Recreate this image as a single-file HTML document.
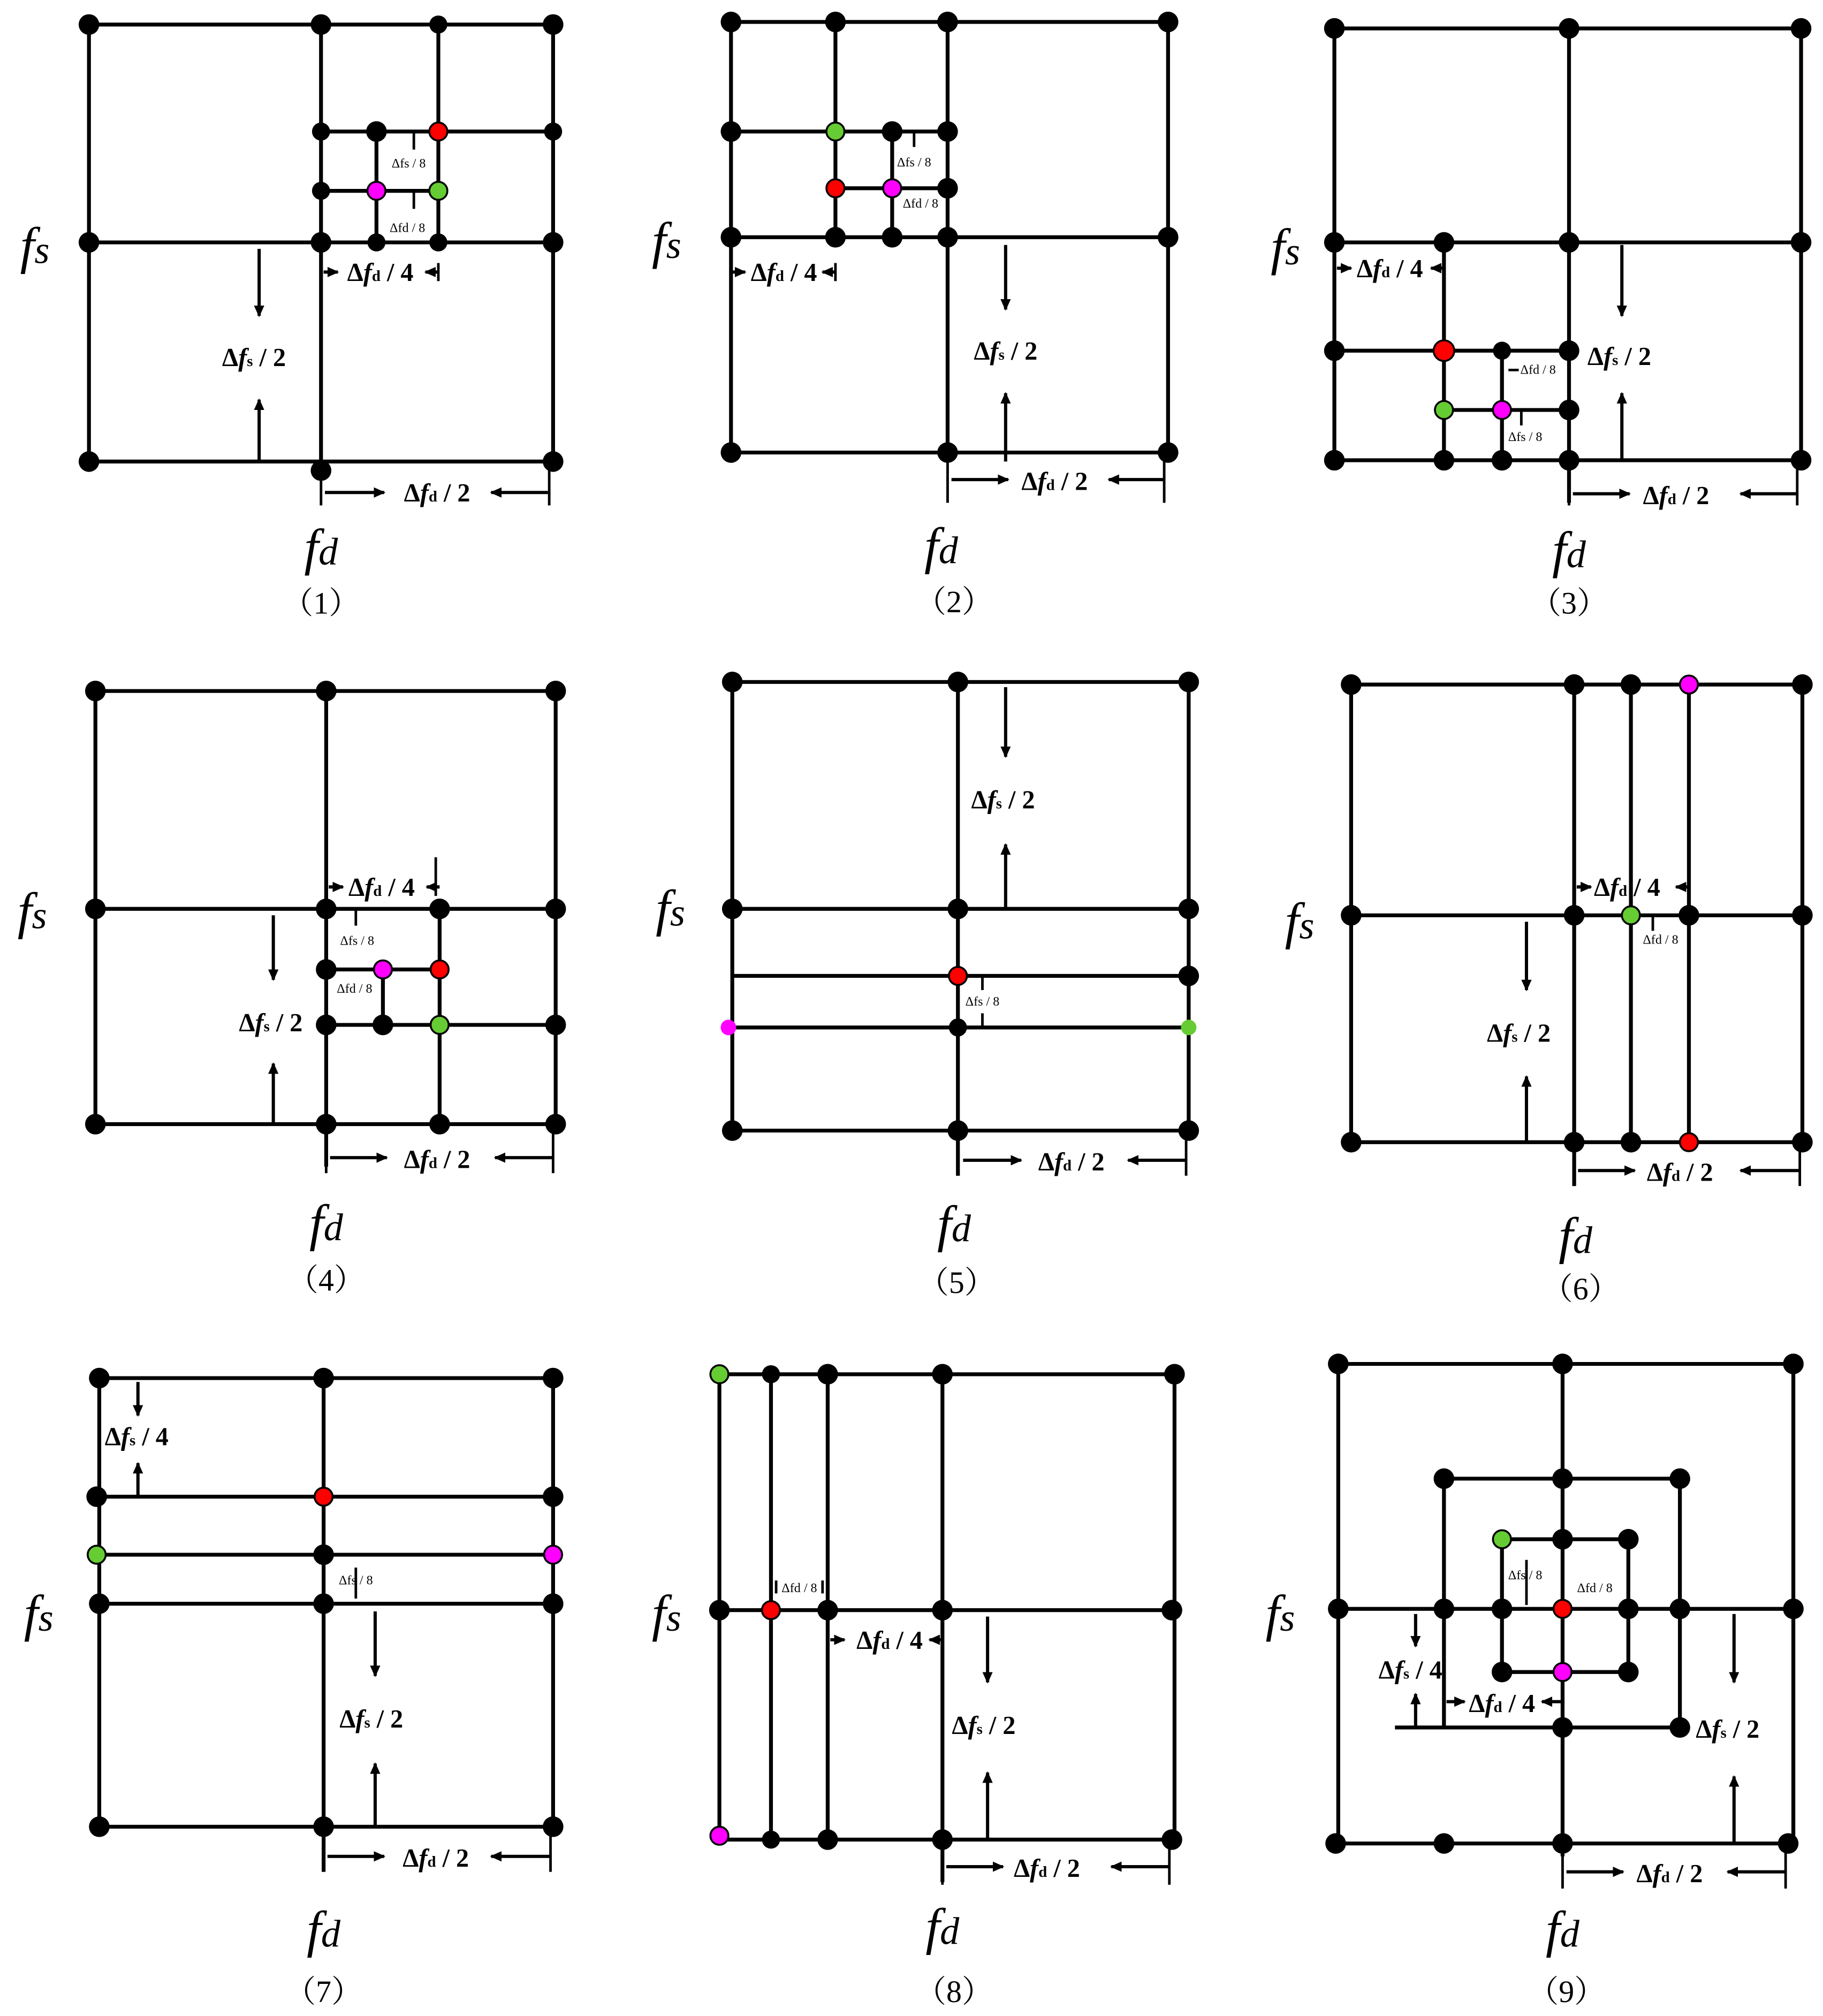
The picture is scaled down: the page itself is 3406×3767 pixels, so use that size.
<!DOCTYPE html>
<html><head><meta charset="utf-8"><style>
html,body{margin:0;padding:0;background:#fff}
svg{display:block}
.l{stroke:#000;stroke-width:3;fill:none}
.a{stroke:#000;stroke-width:2.5;fill:none;marker-end:url(#ah)}
.t{stroke:#000;stroke-width:2;fill:none}
.m{font-family:"Liberation Serif",serif;font-weight:bold;font-size:20px;text-anchor:middle}
.s{font-family:"Liberation Serif",serif;font-size:10px;text-anchor:middle}
.f{font-family:"Liberation Serif",serif;font-style:italic;font-size:40px;text-anchor:middle}
.p{font-family:"Liberation Serif","Noto Serif CJK SC",serif;font-size:24px;text-anchor:middle}
.k{fill:#000}.r{fill:#f00;stroke:#000;stroke-width:1.5}.g{fill:#6c3;stroke:#000;stroke-width:1.5}.q{fill:#f0f;stroke:#000;stroke-width:1.5}
</style></head><body>
<svg width="3406" height="3767" viewBox="0 0 1414 1563.8" xmlns="http://www.w3.org/2000/svg">
<defs><marker id="ah" markerWidth="9" markerHeight="8" refX="8" refY="4" orient="auto" markerUnits="userSpaceOnUse"><path d="M0,0 L9,4 L0,8 z"/></marker></defs>

<!-- Panel 1 -->
<g>
<path class="l" d="M69,19H429V358H69Z M249,19V365 M69,188H429 M340,19V188 M249,102H429 M249,148H340 M292,102V188"/>
<g class="k"><circle cx="69" cy="19" r="8"/><circle cx="249" cy="19" r="8"/><circle cx="340" cy="19" r="7"/><circle cx="429" cy="19" r="8"/><circle cx="249" cy="102" r="7"/><circle cx="292" cy="102" r="8"/><circle cx="429" cy="102" r="7"/><circle cx="249" cy="148" r="7"/><circle cx="69" cy="188" r="8"/><circle cx="249" cy="188" r="8"/><circle cx="292" cy="188" r="7"/><circle cx="340" cy="188" r="7"/><circle cx="429" cy="188" r="8"/><circle cx="69" cy="358" r="8"/><circle cx="249" cy="365" r="8"/><circle cx="429" cy="358" r="8"/></g>
<circle class="r" cx="340" cy="102" r="7"/><circle class="q" cx="292" cy="148" r="7"/><circle class="g" cx="340" cy="148" r="7"/>
<path class="a" d="M201,193V245"/><path class="a" d="M201,358V310"/><path class="a" d="M252,382H298"/><path class="a" d="M425,382H381"/>
<path class="a" d="M251,211H262"/><path class="a" d="M340,211H330"/>
<path class="t" d="M249,358V392 M426,358V392 M321,102V116 M321,148V162 M340,204V218"/>
<text class="m" x="197" y="284">Δ<tspan font-style="italic">f</tspan><tspan font-size="12">s</tspan> / 2</text>
<text class="m" x="295" y="218">Δ<tspan font-style="italic">f</tspan><tspan font-size="12">d</tspan> / 4</text>
<text class="m" x="339" y="389">Δ<tspan font-style="italic">f</tspan><tspan font-size="12">d</tspan> / 2</text>
<text class="s" x="317" y="130">Δfs / 8</text><text class="s" x="316" y="180">Δfd / 8</text>
<text class="f" x="27" y="204">f<tspan font-size="30">s</tspan></text>
<text class="f" x="249" y="438">f<tspan font-size="30">d</tspan></text>
<text class="p" x="249" y="476">（1）</text>
</g>

<!-- Panel 2 -->
<g>
<path class="l" d="M567,17H906V351H567Z M735,17V358 M567,184H906 M648,17V184 M567,102H735 M648,146H735 M692,102V184"/>
<g class="k"><circle cx="567" cy="17" r="8"/><circle cx="648" cy="17" r="8"/><circle cx="735" cy="17" r="8"/><circle cx="906" cy="17" r="8"/><circle cx="567" cy="102" r="8"/><circle cx="692" cy="102" r="8"/><circle cx="735" cy="102" r="8"/><circle cx="735" cy="146" r="8"/><circle cx="567" cy="184" r="8"/><circle cx="648" cy="184" r="8"/><circle cx="692" cy="184" r="8"/><circle cx="735" cy="184" r="8"/><circle cx="906" cy="184" r="8"/><circle cx="567" cy="351" r="8"/><circle cx="735" cy="351" r="8"/><circle cx="906" cy="351" r="8"/></g>
<circle class="g" cx="648" cy="102" r="7"/><circle class="r" cx="648" cy="146" r="7"/><circle class="q" cx="692" cy="146" r="7"/>
<path class="a" d="M780,190V240"/><path class="a" d="M780,358V305"/><path class="a" d="M738,372H782"/><path class="a" d="M903,372H860"/>
<path class="a" d="M567,211H578"/><path class="a" d="M648,211H638"/>
<path class="t" d="M735,351V390 M903,351V390 M567,204V218 M648,204V218 M709,102V114"/>
<text class="m" x="780" y="279">Δ<tspan font-style="italic">f</tspan><tspan font-size="12">s</tspan> / 2</text>
<text class="m" x="608" y="218">Δ<tspan font-style="italic">f</tspan><tspan font-size="12">d</tspan> / 4</text>
<text class="m" x="818" y="380">Δ<tspan font-style="italic">f</tspan><tspan font-size="12">d</tspan> / 2</text>
<text class="s" x="709" y="129">Δfs / 8</text><text class="s" x="714" y="161">Δfd / 8</text>
<text class="f" x="517" y="200">f<tspan font-size="30">s</tspan></text>
<text class="f" x="730" y="437">f<tspan font-size="30">d</tspan></text>
<text class="p" x="740" y="475">（2）</text>
</g>

<!-- Panel 3 -->
<g>
<path class="l" d="M1035,22H1397V357H1035Z M1217,22V390 M1035,188H1397 M1120,188V357 M1035,272H1217 M1120,318H1217 M1165,272V357"/>
<g class="k"><circle cx="1035" cy="22" r="8"/><circle cx="1217" cy="22" r="8"/><circle cx="1397" cy="22" r="8"/><circle cx="1035" cy="188" r="8"/><circle cx="1120" cy="188" r="8"/><circle cx="1217" cy="188" r="8"/><circle cx="1397" cy="188" r="8"/><circle cx="1035" cy="272" r="8"/><circle cx="1165" cy="272" r="7"/><circle cx="1217" cy="272" r="8"/><circle cx="1217" cy="318" r="8"/><circle cx="1035" cy="357" r="8"/><circle cx="1120" cy="357" r="8"/><circle cx="1165" cy="357" r="8"/><circle cx="1217" cy="357" r="8"/><circle cx="1397" cy="357" r="8"/></g>
<circle class="r" cx="1120" cy="272" r="8"/><circle class="g" cx="1120" cy="318" r="7"/><circle class="q" cx="1165" cy="318" r="7"/>
<path class="a" d="M1258,190V245"/><path class="a" d="M1258,357V305"/><path class="a" d="M1220,383H1264"/><path class="a" d="M1394,383H1350"/>
<path class="a" d="M1037,208H1048"/><path class="a" d="M1120,208H1110"/>
<path class="t" d="M1217,357V392 M1394,357V392 M1180,318V330 M1170,287H1178"/>
<text class="m" x="1256" y="283">Δ<tspan font-style="italic">f</tspan><tspan font-size="12">s</tspan> / 2</text>
<text class="m" x="1078" y="215">Δ<tspan font-style="italic">f</tspan><tspan font-size="12">d</tspan> / 4</text>
<text class="m" x="1300" y="391">Δ<tspan font-style="italic">f</tspan><tspan font-size="12">d</tspan> / 2</text>
<text class="s" x="1193" y="290">Δfd / 8</text><text class="s" x="1183" y="342">Δfs / 8</text>
<text class="f" x="997" y="205">f<tspan font-size="30">s</tspan></text>
<text class="f" x="1217" y="440">f<tspan font-size="30">d</tspan></text>
<text class="p" x="1217" y="476">（3）</text>
</g>

<!-- Panel 4 -->
<g>
<path class="l" d="M74,536H431V872H74Z M253,536V905 M74,705H431 M341,705V872 M253,752H341 M253,795H431 M297,752V795"/>
<g class="k"><circle cx="74" cy="536" r="8"/><circle cx="253" cy="536" r="8"/><circle cx="431" cy="536" r="8"/><circle cx="74" cy="705" r="8"/><circle cx="253" cy="705" r="8"/><circle cx="341" cy="705" r="8"/><circle cx="431" cy="705" r="8"/><circle cx="253" cy="752" r="8"/><circle cx="253" cy="795" r="8"/><circle cx="297" cy="795" r="8"/><circle cx="431" cy="795" r="8"/><circle cx="74" cy="872" r="8"/><circle cx="253" cy="872" r="8"/><circle cx="341" cy="872" r="8"/><circle cx="431" cy="872" r="8"/></g>
<circle class="q" cx="297" cy="752" r="7"/><circle class="r" cx="341" cy="752" r="7"/><circle class="g" cx="341" cy="795" r="7"/>
<path class="a" d="M212,710V760"/><path class="a" d="M212,872V825"/><path class="a" d="M256,898H300"/><path class="a" d="M429,898H384"/>
<path class="a" d="M255,688H266"/><path class="a" d="M341,688H331"/>
<path class="t" d="M253,872V910 M429,872V910 M338,665V695 M276,705V718"/>
<text class="m" x="210" y="800">Δ<tspan font-style="italic">f</tspan><tspan font-size="12">s</tspan> / 2</text>
<text class="m" x="296" y="695">Δ<tspan font-style="italic">f</tspan><tspan font-size="12">d</tspan> / 4</text>
<text class="m" x="339" y="906">Δ<tspan font-style="italic">f</tspan><tspan font-size="12">d</tspan> / 2</text>
<text class="s" x="277" y="733">Δfs / 8</text><text class="s" x="275" y="770">Δfd / 8</text>
<text class="f" x="25" y="720">f<tspan font-size="30">s</tspan></text>
<text class="f" x="253" y="962">f<tspan font-size="30">d</tspan></text>
<text class="p" x="253" y="1001">（4）</text>
</g>

<!-- Panel 5 -->
<g>
<path class="l" d="M568,529H922V877H568Z M743,529V912 M568,705H922 M568,757H922 M568,797H922"/>
<g class="k"><circle cx="568" cy="529" r="8"/><circle cx="743" cy="529" r="8"/><circle cx="922" cy="529" r="8"/><circle cx="568" cy="705" r="8"/><circle cx="743" cy="705" r="8"/><circle cx="922" cy="705" r="8"/><circle cx="922" cy="757" r="8"/><circle cx="743" cy="797" r="7"/><circle cx="568" cy="877" r="8"/><circle cx="743" cy="877" r="8"/><circle cx="922" cy="877" r="8"/></g>
<circle class="r" cx="743" cy="757" r="7"/><circle fill="#f0f" cx="565" cy="797" r="6"/><circle fill="#6c3" cx="922" cy="797" r="6"/>
<path class="a" d="M780,533V587"/><path class="a" d="M780,705V655"/><path class="a" d="M747,900H792"/><path class="a" d="M920,900H875"/>
<path class="t" d="M743,877V912 M920,877V912 M762,757V768 M762,786V797"/>
<text class="m" x="778" y="627">Δ<tspan font-style="italic">f</tspan><tspan font-size="12">s</tspan> / 2</text>
<text class="m" x="831" y="908">Δ<tspan font-style="italic">f</tspan><tspan font-size="12">d</tspan> / 2</text>
<text class="s" x="762" y="780">Δfs / 8</text>
<text class="f" x="520" y="718">f<tspan font-size="30">s</tspan></text>
<text class="f" x="740" y="963">f<tspan font-size="30">d</tspan></text>
<text class="p" x="742" y="1003">（5）</text>
</g>

<!-- Panel 6 -->
<g>
<path class="l" d="M1048,531H1398V886H1048Z M1221,531V920 M1048,710H1398 M1265,531V886 M1310,531V886"/>
<g class="k"><circle cx="1048" cy="531" r="8"/><circle cx="1221" cy="531" r="8"/><circle cx="1265" cy="531" r="8"/><circle cx="1398" cy="531" r="8"/><circle cx="1048" cy="710" r="8"/><circle cx="1221" cy="710" r="8"/><circle cx="1310" cy="710" r="8"/><circle cx="1398" cy="710" r="8"/><circle cx="1048" cy="886" r="8"/><circle cx="1221" cy="886" r="8"/><circle cx="1265" cy="886" r="8"/><circle cx="1398" cy="886" r="8"/></g>
<circle class="q" cx="1310" cy="531" r="7"/><circle class="g" cx="1265" cy="710" r="7"/><circle class="r" cx="1310" cy="886" r="7"/>
<path class="a" d="M1184,715V768"/><path class="a" d="M1184,886V835"/><path class="a" d="M1224,908H1268"/><path class="a" d="M1396,908H1350"/>
<path class="a" d="M1223,688H1234"/><path class="a" d="M1310,688H1300"/>
<path class="t" d="M1221,886V920 M1396,886V920 M1282,710V722"/>
<text class="m" x="1178" y="808">Δ<tspan font-style="italic">f</tspan><tspan font-size="12">s</tspan> / 2</text>
<text class="m" x="1262" y="695">Δ<tspan font-style="italic">f</tspan><tspan font-size="12">d</tspan> / 4</text>
<text class="m" x="1303" y="916">Δ<tspan font-style="italic">f</tspan><tspan font-size="12">d</tspan> / 2</text>
<text class="s" x="1288" y="732">Δfd / 8</text>
<text class="f" x="1008" y="728">f<tspan font-size="30">s</tspan></text>
<text class="f" x="1222" y="972">f<tspan font-size="30">d</tspan></text>
<text class="p" x="1226" y="1008">（6）</text>
</g>

<!-- Panel 7 -->
<g>
<path class="l" d="M77,1069H429V1417H77Z M251,1069V1452 M77,1161H429 M77,1206H429 M77,1244H429"/>
<g class="k"><circle cx="77" cy="1069" r="8"/><circle cx="251" cy="1069" r="8"/><circle cx="429" cy="1069" r="8"/><circle cx="75" cy="1161" r="8"/><circle cx="429" cy="1161" r="8"/><circle cx="251" cy="1206" r="8"/><circle cx="77" cy="1244" r="8"/><circle cx="251" cy="1244" r="8"/><circle cx="429" cy="1244" r="8"/><circle cx="77" cy="1417" r="8"/><circle cx="251" cy="1417" r="8"/><circle cx="429" cy="1417" r="8"/></g>
<circle class="r" cx="251" cy="1161" r="7"/><circle class="g" cx="75" cy="1206" r="7"/><circle class="q" cx="429" cy="1206" r="7"/>
<path class="a" d="M107,1072V1098"/><path class="a" d="M107,1161V1135"/><path class="a" d="M291,1250V1300"/><path class="a" d="M291,1417V1368"/><path class="a" d="M254,1440H298"/><path class="a" d="M427,1440H381"/>
<path class="t" d="M251,1417V1452 M427,1417V1452 M276,1216V1240"/>
<text class="m" x="106" y="1121">Δ<tspan font-style="italic">f</tspan><tspan font-size="12">s</tspan> / 4</text>
<text class="m" x="288" y="1340">Δ<tspan font-style="italic">f</tspan><tspan font-size="12">s</tspan> / 2</text>
<text class="m" x="338" y="1448">Δ<tspan font-style="italic">f</tspan><tspan font-size="12">d</tspan> / 2</text>
<text class="s" x="276" y="1229">Δfs / 8</text>
<text class="f" x="30" y="1265">f<tspan font-size="30">s</tspan></text>
<text class="f" x="251" y="1510">f<tspan font-size="30">d</tspan></text>
<text class="p" x="251" y="1553">（7）</text>
</g>

<!-- Panel 8 -->
<g>
<path class="l" d="M558,1066H911V1427H558Z M731,1066V1460 M598,1066V1427 M642,1066V1427 M558,1249H911"/>
<g class="k"><circle cx="598" cy="1066" r="7"/><circle cx="642" cy="1066" r="8"/><circle cx="731" cy="1066" r="8"/><circle cx="911" cy="1066" r="8"/><circle cx="558" cy="1249" r="8"/><circle cx="642" cy="1249" r="8"/><circle cx="731" cy="1249" r="8"/><circle cx="909" cy="1249" r="8"/><circle cx="598" cy="1427" r="7"/><circle cx="642" cy="1427" r="8"/><circle cx="731" cy="1427" r="8"/><circle cx="909" cy="1427" r="8"/></g>
<circle class="g" cx="558" cy="1066" r="7"/><circle class="r" cx="598" cy="1249" r="7"/><circle class="q" cx="558" cy="1424" r="7"/>
<path class="a" d="M766,1254V1305"/><path class="a" d="M766,1427V1375"/><path class="a" d="M734,1448H778"/><path class="a" d="M907,1448H862"/>
<path class="a" d="M644,1272H655"/><path class="a" d="M731,1272H721"/>
<path class="t" d="M731,1427V1462 M907,1427V1462 M602,1226V1236 M638,1226V1236"/>
<text class="m" x="763" y="1345">Δ<tspan font-style="italic">f</tspan><tspan font-size="12">s</tspan> / 2</text>
<text class="m" x="690" y="1279">Δ<tspan font-style="italic">f</tspan><tspan font-size="12">d</tspan> / 4</text>
<text class="m" x="812" y="1456">Δ<tspan font-style="italic">f</tspan><tspan font-size="12">d</tspan> / 2</text>
<text class="s" x="620" y="1235">Δfd / 8</text>
<text class="f" x="517" y="1265">f<tspan font-size="30">s</tspan></text>
<text class="f" x="731" y="1508">f<tspan font-size="30">d</tspan></text>
<text class="p" x="740" y="1553">（8）</text>
</g>

<!-- Panel 9 -->
<g>
<path class="l" d="M1038,1058H1391V1430H1038Z M1212,1058V1440 M1038,1248H1391 M1120,1147H1303V1340 M1120,1147V1340 M1082,1340H1303 M1165,1194H1263V1297H1165Z"/>
<g class="k"><circle cx="1038" cy="1058" r="8"/><circle cx="1212" cy="1058" r="8"/><circle cx="1391" cy="1058" r="8"/><circle cx="1120" cy="1147" r="8"/><circle cx="1212" cy="1147" r="8"/><circle cx="1303" cy="1147" r="8"/><circle cx="1212" cy="1194" r="8"/><circle cx="1263" cy="1194" r="8"/><circle cx="1038" cy="1248" r="8"/><circle cx="1120" cy="1248" r="8"/><circle cx="1165" cy="1248" r="8"/><circle cx="1263" cy="1248" r="8"/><circle cx="1303" cy="1248" r="8"/><circle cx="1391" cy="1248" r="8"/><circle cx="1165" cy="1297" r="8"/><circle cx="1263" cy="1297" r="8"/><circle cx="1212" cy="1340" r="8"/><circle cx="1303" cy="1340" r="8"/><circle cx="1036" cy="1430" r="8"/><circle cx="1120" cy="1430" r="8"/><circle cx="1212" cy="1430" r="8"/><circle cx="1387" cy="1430" r="8"/></g>
<circle class="g" cx="1165" cy="1194" r="7"/><circle class="r" cx="1212" cy="1248" r="7"/><circle class="q" cx="1212" cy="1297" r="7"/>
<path class="a" d="M1098,1252V1277"/><path class="a" d="M1098,1340V1314"/><path class="a" d="M1122,1320H1136"/><path class="a" d="M1212,1320H1196"/><path class="a" d="M1345,1252V1305"/><path class="a" d="M1345,1430V1378"/><path class="a" d="M1215,1452H1259"/><path class="a" d="M1385,1452H1340"/>
<path class="t" d="M1212,1430V1465 M1385,1430V1465 M1184,1210V1245"/>
<text class="m" x="1094" y="1302">Δ<tspan font-style="italic">f</tspan><tspan font-size="12">s</tspan> / 4</text>
<text class="m" x="1165" y="1328">Δ<tspan font-style="italic">f</tspan><tspan font-size="12">d</tspan> / 4</text>
<text class="m" x="1340" y="1348">Δ<tspan font-style="italic">f</tspan><tspan font-size="12">s</tspan> / 2</text>
<text class="m" x="1295" y="1460">Δ<tspan font-style="italic">f</tspan><tspan font-size="12">d</tspan> / 2</text>
<text class="s" x="1183" y="1225">Δfs / 8</text><text class="s" x="1237" y="1235">Δfd / 8</text>
<text class="f" x="993" y="1265">f<tspan font-size="30">s</tspan></text>
<text class="f" x="1212" y="1510">f<tspan font-size="30">d</tspan></text>
<text class="p" x="1215" y="1553">（9）</text>
</g>
</svg>
</body></html>
